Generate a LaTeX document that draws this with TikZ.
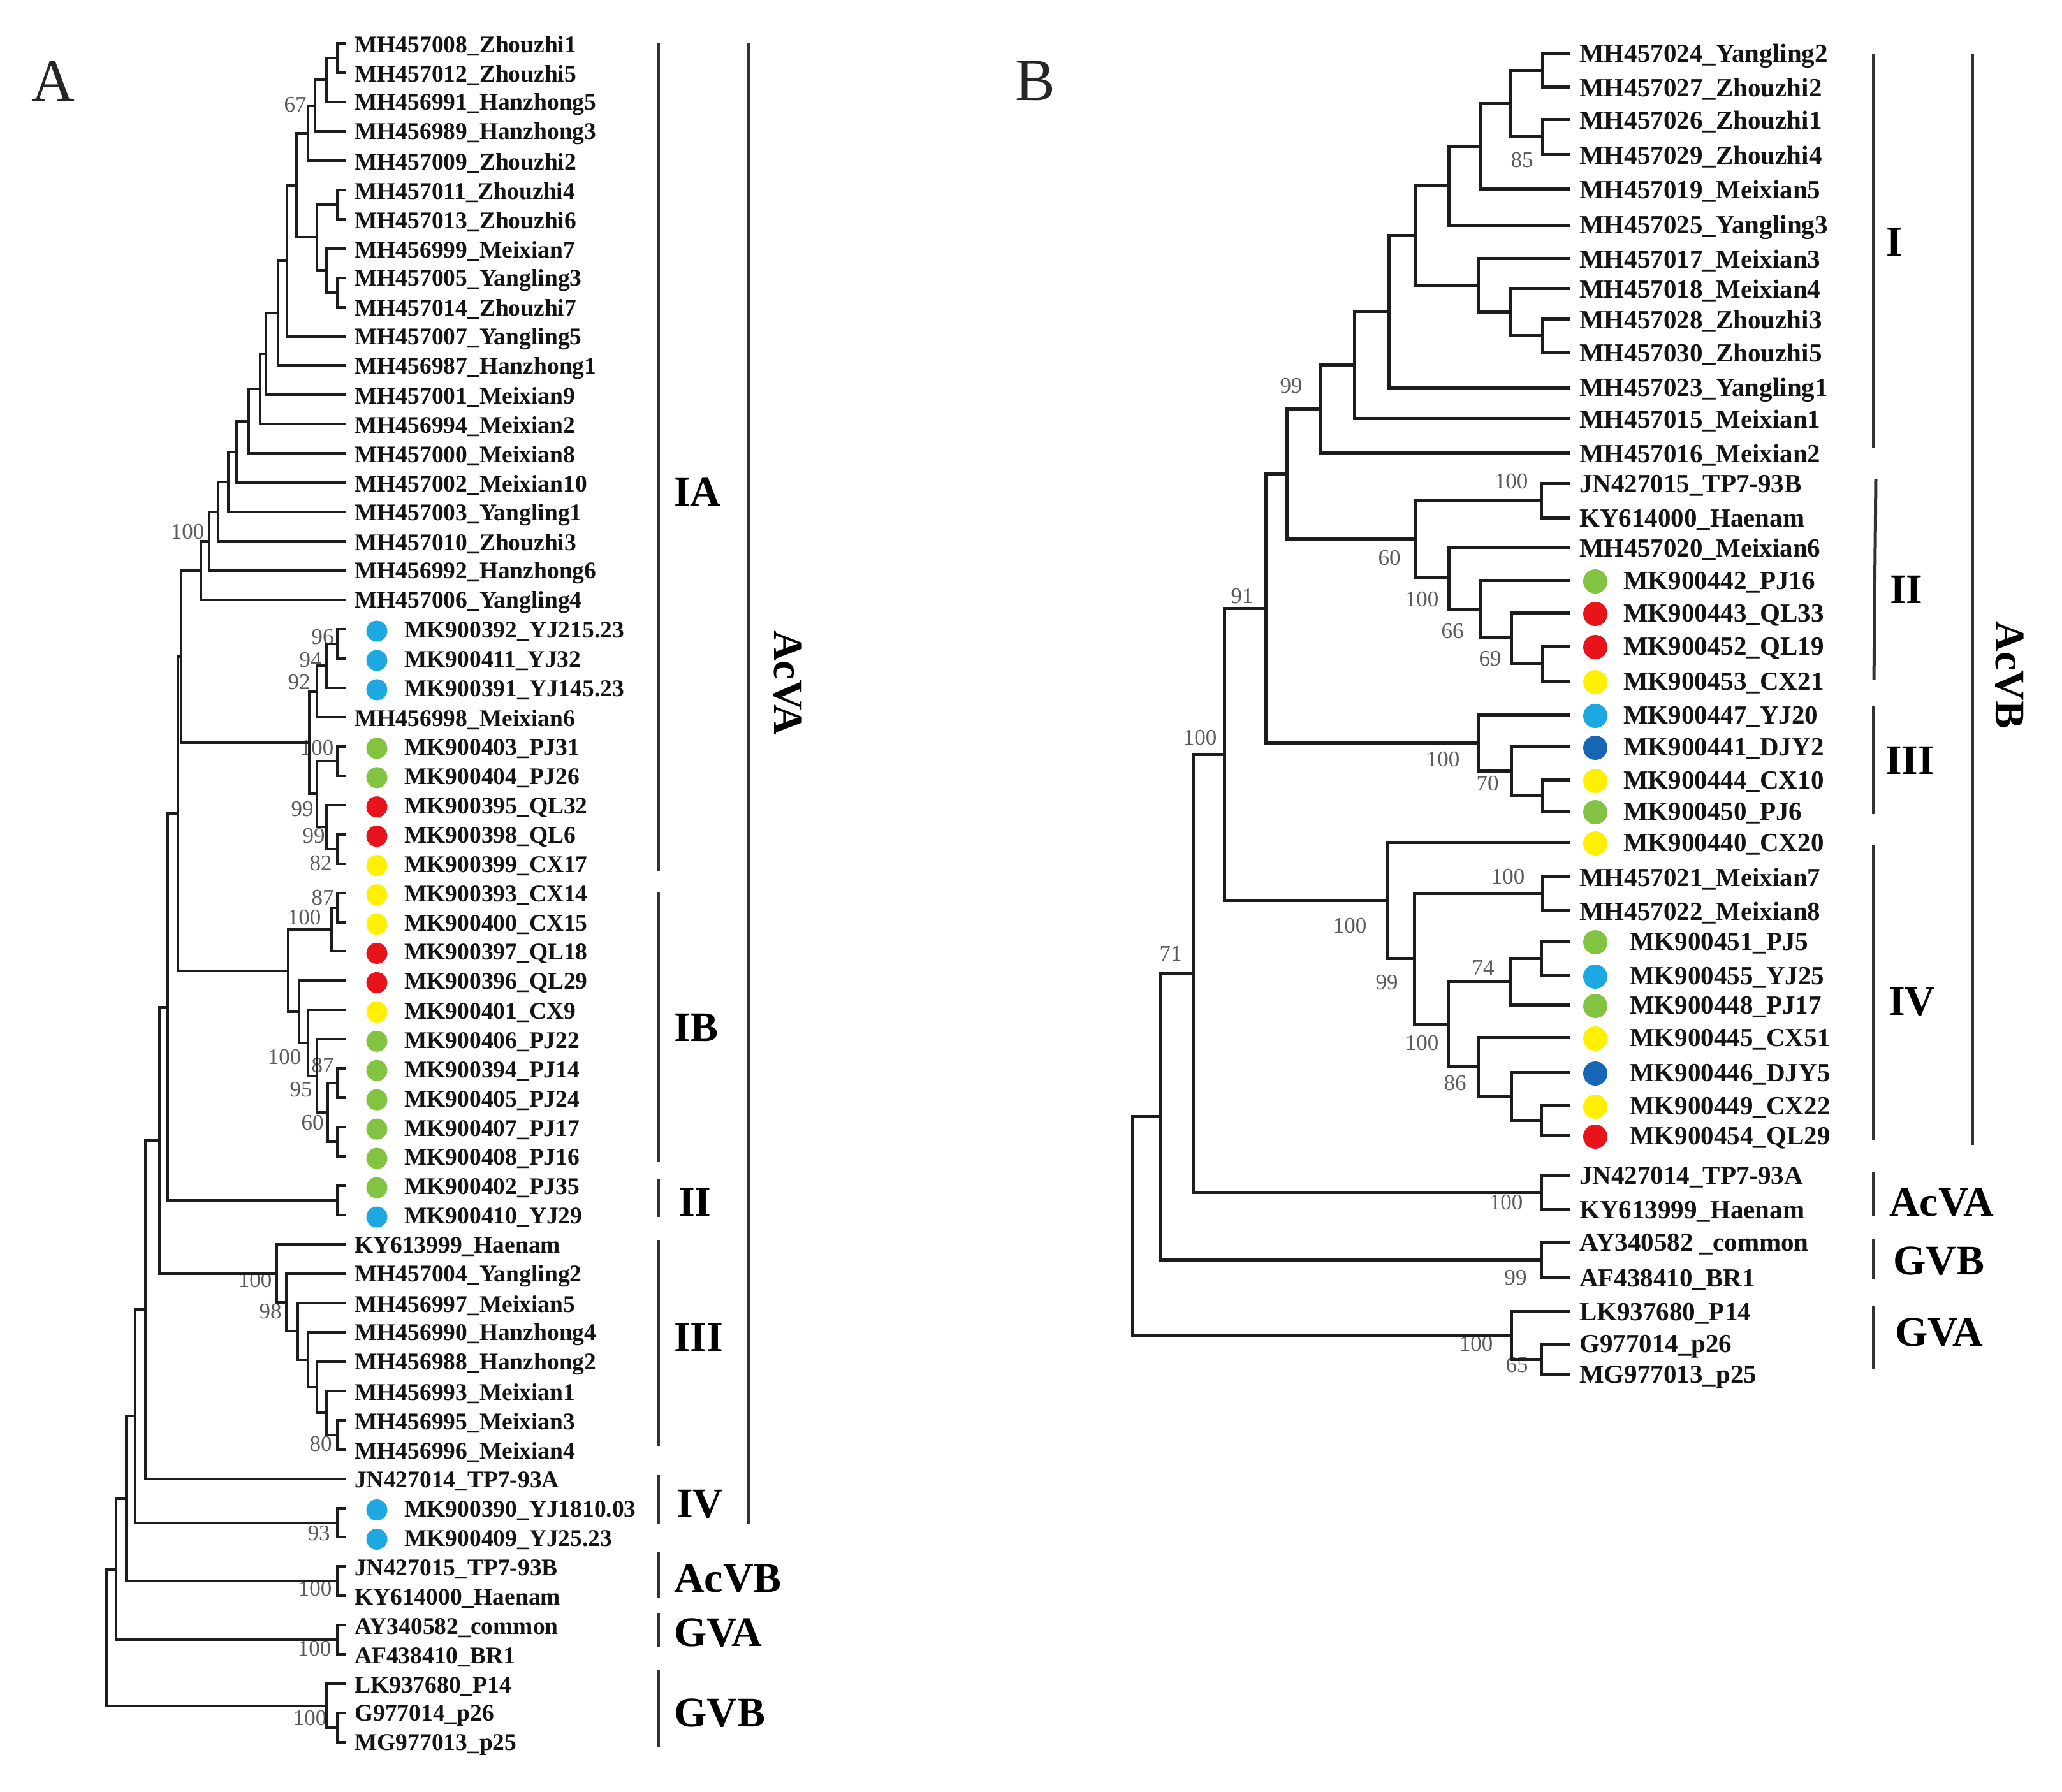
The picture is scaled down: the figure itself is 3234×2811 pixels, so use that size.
\documentclass[tikz,border=0pt]{standalone}
\usepackage{fontspec}
\setmainfont{Liberation Serif}
\usetikzlibrary{calc}
\definecolor{cgreen}{HTML}{82C341}
\definecolor{cred}{HTML}{E8141C}
\definecolor{cyel}{HTML}{FFF000}
\definecolor{cblue}{HTML}{1DA8E2}
\definecolor{cdblue}{HTML}{1766B5}
\definecolor{lineclr}{HTML}{1C1C1C}
\definecolor{bsclr}{HTML}{5A5A5A}
\newcommand\TreeNode[5]{%
  \path let \p1=($(#4)!0.5!(#5)$) in coordinate (#2) at (#3pt,\y1);
  \draw[#1] (#2) |- (#4);
  \draw[#1] (#2) |- (#5);}
\newcommand\LeafA[3]{%
  \coordinate (#1) at (543,{68+45.95*(#2-1)});
  \node[labA] (#1t) at (556,{72+45.95*(#2-1)}) {#3};}
\newcommand\LeafAc[4]{%
  \coordinate (#1) at (543,{68+45.95*(#2-1)});
  \node[dotA, fill=#4] (#1d) at (591,{71+45.95*(#2-1)}) {};
  \node[labA] (#1t) at (634,{72+45.95*(#2-1)}) {#3};}
\newcommand\LeafB[3]{%
  \coordinate (#1) at (2463,#2);
  \node[labB] (#1t) at (2477,{#2+4}) {#3};}
\newcommand\LeafBc[5]{%
  \coordinate (#1) at (2463,#2);
  \node[dotB, fill=#4] (#1d) at (2502,{#2+2}) {};
  \node[labB] (#1t) at (#5,{#2+4}) {#3};}
\newcommand\Boot[4]{\node[bs] (#1) at (#2,#3) {#4};}
\newcommand\Clade[4]{\node[cl] (#1) at (#2,#3) {#4};}
\begin{document}
\begin{tikzpicture}[x=1pt,y=-1pt,
  brA/.style={line width=4pt, draw=lineclr},
  brB/.style={line width=5pt, draw=lineclr},
  brk/.style={line width=5pt, draw=black!80},
  labA/.style={anchor=west, inner sep=0pt, font=\fontsize{37.5}{40}\selectfont\bfseries, text=black!92},
  labB/.style={anchor=west, inner sep=0pt, font=\fontsize{41}{44}\selectfont\bfseries, text=black!92},
  dotA/.style={circle, inner sep=0pt, minimum size=33pt, draw=none},
  dotB/.style={circle, inner sep=0pt, minimum size=38pt, draw=none},
  bs/.style={inner sep=0pt, font=\fontsize{35}{36}\selectfont, text=bsclr},
  cl/.style={anchor=west, inner sep=0pt, font=\fontsize{66}{70}\selectfont\bfseries, text=black},
  panel/.style={inner sep=0pt, font=\fontsize{94}{100}\selectfont, text=black!85}]
\useasboundingbox (0,0) rectangle (3234,2811);
\fill[white] (0,0) rectangle (3234,2811);

% panel letters
\node[panel] (pA) at (83,127) {A};
\node[panel] (pB) at (1624,127) {B};

% ---------------- Tree A bootstrap values ----------------
\Boot{bA1}{463}{164}{67}
\Boot{bA2}{294}{834}{100}
\Boot{bA3}{506}{999}{96}
\Boot{bA4}{487}{1035}{94}
\Boot{bA5}{469}{1070}{92}
\Boot{bA6}{497}{1173}{100}
\Boot{bA7}{474}{1269}{99}
\Boot{bA8}{492}{1311}{99}
\Boot{bA9}{503}{1354}{82}
\Boot{bA10}{506}{1408}{87}
\Boot{bA11}{477}{1439}{100}
\Boot{bA12}{446}{1658}{100}
\Boot{bA13}{506}{1671}{87}
\Boot{bA14}{472}{1709}{95}
\Boot{bA15}{490}{1761}{60}
\Boot{bA16}{400}{2008}{100}
\Boot{bA17}{424}{2057}{98}
\Boot{bA18}{503}{2265}{80}
\Boot{bA19}{500}{2405}{93}
\Boot{bA20}{494}{2492}{100}
\Boot{bA21}{493}{2586}{100}
\Boot{bA22}{486}{2695}{100}

% ---------------- Tree A leaves ----------------
\LeafA{a1}{1}{MH457008\_Zhouzhi1}
\LeafA{a2}{2}{MH457012\_Zhouzhi5}
\LeafA{a3}{3}{MH456991\_Hanzhong5}
\LeafA{a4}{4}{MH456989\_Hanzhong3}
\LeafA{a5}{5}{MH457009\_Zhouzhi2}
\LeafA{a6}{6}{MH457011\_Zhouzhi4}
\LeafA{a7}{7}{MH457013\_Zhouzhi6}
\LeafA{a8}{8}{MH456999\_Meixian7}
\LeafA{a9}{9}{MH457005\_Yangling3}
\LeafA{a10}{10}{MH457014\_Zhouzhi7}
\LeafA{a11}{11}{MH457007\_Yangling5}
\LeafA{a12}{12}{MH456987\_Hanzhong1}
\LeafA{a13}{13}{MH457001\_Meixian9}
\LeafA{a14}{14}{MH456994\_Meixian2}
\LeafA{a15}{15}{MH457000\_Meixian8}
\LeafA{a16}{16}{MH457002\_Meixian10}
\LeafA{a17}{17}{MH457003\_Yangling1}
\LeafA{a18}{18}{MH457010\_Zhouzhi3}
\LeafA{a19}{19}{MH456992\_Hanzhong6}
\LeafA{a20}{20}{MH457006\_Yangling4}
\LeafAc{a21}{21}{MK900392\_YJ215.23}{cblue}
\LeafAc{a22}{22}{MK900411\_YJ32}{cblue}
\LeafAc{a23}{23}{MK900391\_YJ145.23}{cblue}
\LeafA{a24}{24}{MH456998\_Meixian6}
\LeafAc{a25}{25}{MK900403\_PJ31}{cgreen}
\LeafAc{a26}{26}{MK900404\_PJ26}{cgreen}
\LeafAc{a27}{27}{MK900395\_QL32}{cred}
\LeafAc{a28}{28}{MK900398\_QL6}{cred}
\LeafAc{a29}{29}{MK900399\_CX17}{cyel}
\LeafAc{a30}{30}{MK900393\_CX14}{cyel}
\LeafAc{a31}{31}{MK900400\_CX15}{cyel}
\LeafAc{a32}{32}{MK900397\_QL18}{cred}
\LeafAc{a33}{33}{MK900396\_QL29}{cred}
\LeafAc{a34}{34}{MK900401\_CX9}{cyel}
\LeafAc{a35}{35}{MK900406\_PJ22}{cgreen}
\LeafAc{a36}{36}{MK900394\_PJ14}{cgreen}
\LeafAc{a37}{37}{MK900405\_PJ24}{cgreen}
\LeafAc{a38}{38}{MK900407\_PJ17}{cgreen}
\LeafAc{a39}{39}{MK900408\_PJ16}{cgreen}
\LeafAc{a40}{40}{MK900402\_PJ35}{cgreen}
\LeafAc{a41}{41}{MK900410\_YJ29}{cblue}
\LeafA{a42}{42}{KY613999\_Haenam}
\LeafA{a43}{43}{MH457004\_Yangling2}
\LeafA{a44}{44}{MH456997\_Meixian5}
\LeafA{a45}{45}{MH456990\_Hanzhong4}
\LeafA{a46}{46}{MH456988\_Hanzhong2}
\LeafA{a47}{47}{MH456993\_Meixian1}
\LeafA{a48}{48}{MH456995\_Meixian3}
\LeafA{a49}{49}{MH456996\_Meixian4}
\LeafA{a50}{50}{JN427014\_TP7-93A}
\LeafAc{a51}{51}{MK900390\_YJ1810.03}{cblue}
\LeafAc{a52}{52}{MK900409\_YJ25.23}{cblue}
\LeafA{a53}{53}{JN427015\_TP7-93B}
\LeafA{a54}{54}{KY614000\_Haenam}
\LeafA{a55}{55}{AY340582\_common}
\LeafA{a56}{56}{AF438410\_BR1}
\LeafA{a57}{57}{LK937680\_P14}
\LeafA{a58}{58}{G977014\_p26}
\LeafA{a59}{59}{MG977013\_p25}

% ---------------- Tree A internal nodes ----------------
\TreeNode{brA}{Az15}{529}{a1}{a2}
\TreeNode{brA}{Ah5}{512}{Az15}{a3}
\TreeNode{brA}{A67}{494}{Ah5}{a4}
\TreeNode{brA}{Az2}{483}{A67}{a5}
\TreeNode{brA}{Az46}{529}{a6}{a7}
\TreeNode{brA}{Ay3z7}{529}{a9}{a10}
\TreeNode{brA}{Am7}{512}{a8}{Ay3z7}
\TreeNode{brA}{Ac2}{497}{Az46}{Am7}
\TreeNode{brA}{An1}{465}{Az2}{Ac2}
\TreeNode{brA}{An2}{450}{An1}{a11}
\TreeNode{brA}{An3}{436}{An2}{a12}
\TreeNode{brA}{An4}{417}{An3}{a13}
\TreeNode{brA}{An5}{408}{An4}{a14}
\TreeNode{brA}{An6}{390}{An5}{a15}
\TreeNode{brA}{An7}{371}{An6}{a16}
\TreeNode{brA}{An8}{358}{An7}{a17}
\TreeNode{brA}{An9}{342}{An8}{a18}
\TreeNode{brA}{An10}{328}{An9}{a19}
\TreeNode{brA}{An11}{315}{An10}{a20}
\TreeNode{brA}{A96}{529}{a21}{a22}
\TreeNode{brA}{A94}{512}{A96}{a23}
\TreeNode{brA}{A92}{497}{A94}{a24}
\TreeNode{brA}{Apj}{529}{a25}{a26}
\TreeNode{brA}{A82}{529}{a28}{a29}
\TreeNode{brA}{A99b}{512}{a27}{A82}
\TreeNode{brA}{A99a}{497}{Apj}{A99b}
\TreeNode{brA}{Amk}{485}{A92}{A99a}
\TreeNode{brA}{AP1}{284}{An11}{Amk}
\TreeNode{brA}{A87a}{529}{a30}{a31}
\TreeNode{brA}{A100ib}{520}{A87a}{a32}
\TreeNode{brA}{A87b}{529}{a36}{a37}
\TreeNode{brA}{Apjc}{529}{a38}{a39}
\TreeNode{brA}{A60}{514}{A87b}{Apjc}
\TreeNode{brA}{A95}{497}{a35}{A60}
\TreeNode{brA}{A100c}{483}{a34}{A95}
\TreeNode{brA}{Aql}{469}{a33}{A100c}
\TreeNode{brA}{AIB}{452}{A100ib}{Aql}
\TreeNode{brA}{AP2}{279}{AP1}{AIB}
\TreeNode{brA}{AII}{529}{a40}{a41}
\TreeNode{brA}{AP3}{263}{AP2}{AII}
\TreeNode{brA}{A80}{529}{a48}{a49}
\TreeNode{brA}{Am1}{512}{a47}{A80}
\TreeNode{brA}{Ah2}{497}{a46}{Am1}
\TreeNode{brA}{Ah4}{483}{a45}{Ah2}
\TreeNode{brA}{Am5}{467}{a44}{Ah4}
\TreeNode{brA}{A98}{449}{a43}{Am5}
\TreeNode{brA}{AIII}{434}{a42}{A98}
\TreeNode{brA}{AP4}{250}{AP3}{AIII}
\TreeNode{brA}{AP5}{228}{AP4}{a50}
\TreeNode{brA}{AIV}{529}{a51}{a52}
\TreeNode{brA}{AP6}{212}{AP5}{AIV}
\TreeNode{brA}{Aacvb}{529}{a53}{a54}
\TreeNode{brA}{AP7}{198}{AP6}{Aacvb}
\TreeNode{brA}{Agva}{529}{a55}{a56}
\TreeNode{brA}{AP8}{182}{AP7}{Agva}
\TreeNode{brA}{Agvb2}{529}{a58}{a59}
\TreeNode{brA}{Agvb}{512}{a57}{Agvb2}
\TreeNode{brA}{Aroot}{167}{AP8}{Agvb}

% ---------------- Tree A brackets ----------------
\draw[brk] (1032,68) -- (1032,1367);
\draw[brk] (1032,1399) -- (1032,1823);
\draw[brk] (1032,1850) -- (1032,1909);
\draw[brk] (1032,1945) -- (1032,2269);
\draw[brk] (1032,2314) -- (1032,2390);
\draw[brk] (1032,2435) -- (1032,2507);
\draw[brk] (1032,2530) -- (1032,2584);
\draw[brk] (1032,2620) -- (1032,2741);
\draw[brk] (1174,68) -- (1174,2390);
\Clade{cA1}{1057}{772}{IA}
\Clade{cA2}{1057}{1612}{IB}
\Clade{cA3}{1064}{1886}{II}
\Clade{cA4}{1057}{2098}{III}
\Clade{cA5}{1061}{2359}{IV}
\Clade{cA6}{1057}{2476}{AcVB}
\Clade{cA7}{1057}{2561}{GVA}
\Clade{cA8}{1057}{2687}{GVB}
\node[cl, anchor=center, rotate=-90] (cA9) at (1236,1071) {AcVA};

% ---------------- Tree B bootstrap values ----------------
\Boot{bB1}{2387}{251}{85}
\Boot{bB2}{2025}{605}{99}
\Boot{bB3}{2370}{755}{100}
\Boot{bB4}{2179}{875}{60}
\Boot{bB5}{2230}{940}{100}
\Boot{bB6}{2278}{990}{66}
\Boot{bB7}{2337}{1033}{69}
\Boot{bB8}{1948}{935}{91}
\Boot{bB9}{2263}{1191}{100}
\Boot{bB10}{2333}{1229}{70}
\Boot{bB11}{1882}{1157}{100}
\Boot{bB12}{2365}{1375}{100}
\Boot{bB13}{2117}{1452}{100}
\Boot{bB14}{1836}{1496}{71}
\Boot{bB15}{2326}{1518}{74}
\Boot{bB16}{2175}{1541}{99}
\Boot{bB17}{2230}{1636}{100}
\Boot{bB18}{2282}{1699}{86}
\Boot{bB19}{2362}{1886}{100}
\Boot{bB20}{2377}{2004}{99}
\Boot{bB21}{2315}{2108}{100}
\Boot{bB22}{2379}{2141}{65}

% ---------------- Tree B leaves ----------------
\LeafB{b1}{84}{MH457024\_Yangling2}
\LeafB{b2}{136}{MH457027\_Zhouzhi2}
\LeafB{b3}{187}{MH457026\_Zhouzhi1}
\LeafB{b4}{242}{MH457029\_Zhouzhi4}
\LeafB{b5}{296}{MH457019\_Meixian5}
\LeafB{b6}{353}{MH457025\_Yangling3}
\LeafB{b7}{405}{MH457017\_Meixian3}
\LeafB{b8}{452}{MH457018\_Meixian4}
\LeafB{b9}{500}{MH457028\_Zhouzhi3}
\LeafB{b10}{552}{MH457030\_Zhouzhi5}
\LeafB{b11}{608}{MH457023\_Yangling1}
\LeafB{b12}{656}{MH457015\_Meixian1}
\LeafB{b13}{710}{MH457016\_Meixian2}
\LeafB{b14}{758}{JN427015\_TP7-93B}
\LeafB{b15}{812}{KY614000\_Haenam}
\LeafB{b16}{858}{MH457020\_Meixian6}
\LeafBc{b17}{910}{MK900442\_PJ16}{cgreen}{2546}
\LeafBc{b18}{961}{MK900443\_QL33}{cred}{2546}
\LeafBc{b19}{1013}{MK900452\_QL19}{cred}{2546}
\LeafBc{b20}{1068}{MK900453\_CX21}{cyel}{2546}
\LeafBc{b21}{1121}{MK900447\_YJ20}{cblue}{2546}
\LeafBc{b22}{1171}{MK900441\_DJY2}{cdblue}{2546}
\LeafBc{b23}{1223}{MK900444\_CX10}{cyel}{2546}
\LeafBc{b24}{1272}{MK900450\_PJ6}{cgreen}{2546}
\LeafBc{b25}{1321}{MK900440\_CX20}{cyel}{2546}
\LeafB{b26}{1375}{MH457021\_Meixian7}
\LeafB{b27}{1428}{MH457022\_Meixian8}
\LeafBc{b28}{1476}{MK900451\_PJ5}{cgreen}{2556}
\LeafBc{b29}{1530}{MK900455\_YJ25}{cblue}{2556}
\LeafBc{b30}{1576}{MK900448\_PJ17}{cgreen}{2556}
\LeafBc{b31}{1627}{MK900445\_CX51}{cyel}{2556}
\LeafBc{b32}{1682}{MK900446\_DJY5}{cdblue}{2556}
\LeafBc{b33}{1734}{MK900449\_CX22}{cyel}{2556}
\LeafBc{b34}{1781}{MK900454\_QL29}{cred}{2556}
\LeafB{b35}{1843}{JN427014\_TP7-93A}
\LeafB{b36}{1897}{KY613999\_Haenam}
\LeafB{b37}{1948}{AY340582 \_common}
\LeafB{b38}{2004}{AF438410\_BR1}
\LeafB{b39}{2057}{LK937680\_P14}
\LeafB{b40}{2108}{G977014\_p26}
\LeafB{b41}{2156}{MG977013\_p25}

% ---------------- Tree B internal nodes ----------------
\TreeNode{brB}{B12}{2419}{b1}{b2}
\TreeNode{brB}{B85}{2419}{b3}{b4}
\TreeNode{brB}{Bq}{2368}{B12}{B85}
\TreeNode{brB}{Bm5}{2321}{Bq}{b5}
\TreeNode{brB}{By3}{2272}{Bm5}{b6}
\TreeNode{brB}{Bz35}{2419}{b9}{b10}
\TreeNode{brB}{Bm4}{2368}{b8}{Bz35}
\TreeNode{brB}{Bm3}{2318}{b7}{Bm4}
\TreeNode{brB}{Bc}{2219}{By3}{Bm3}
\TreeNode{brB}{By1}{2178}{Bc}{b11}
\TreeNode{brB}{Bm1}{2124}{By1}{b12}
\TreeNode{brB}{BI}{2070}{Bm1}{b13}
\TreeNode{brB}{Btp}{2417}{b14}{b15}
\TreeNode{brB}{B69b}{2419}{b19}{b20}
\TreeNode{brB}{B69}{2370}{b18}{B69b}
\TreeNode{brB}{B66}{2321}{b17}{B69}
\TreeNode{brB}{B100m}{2272}{b16}{B66}
\TreeNode{brB}{BII}{2219}{Btp}{B100m}
\TreeNode{brB}{BIII}{2018}{BI}{BII}
\TreeNode{brB}{Biiib}{2419}{b23}{b24}
\TreeNode{brB}{B70}{2370}{b22}{Biiib}
\TreeNode{brB}{BIIIc}{2318}{b21}{B70}
\TreeNode{brB}{B91}{1985}{BIII}{BIIIc}
\TreeNode{brB}{Bm78}{2419}{b26}{b27}
\TreeNode{brB}{Bpj5}{2417}{b28}{b29}
\TreeNode{brB}{B74}{2368}{Bpj5}{b30}
\TreeNode{brB}{Bcx22}{2417}{b33}{b34}
\TreeNode{brB}{Bdjy5}{2370}{b32}{Bcx22}
\TreeNode{brB}{B86}{2318}{b31}{Bdjy5}
\TreeNode{brB}{B100d}{2271}{B74}{B86}
\TreeNode{brB}{B99}{2218}{Bm78}{B100d}
\TreeNode{brB}{BIV}{2175}{b25}{B99}
\TreeNode{brB}{B100}{1920}{B91}{BIV}
\TreeNode{brB}{Bacva}{2417}{b35}{b36}
\TreeNode{brB}{B71}{1871}{B100}{Bacva}
\TreeNode{brB}{Bgvb}{2417}{b37}{b38}
\TreeNode{brB}{Bg}{1820}{B71}{Bgvb}
\TreeNode{brB}{Bgva2}{2417}{b40}{b41}
\TreeNode{brB}{Bgva}{2370}{b39}{Bgva2}
\TreeNode{brB}{Broot}{1776}{Bg}{Bgva}

% ---------------- Tree B brackets ----------------
\draw[brk] (2938,84) -- (2938,702);
\draw[brk] (2942,751) -- (2939,1066);
\draw[brk] (2938,1108) -- (2938,1277);
\draw[brk] (2938,1326) -- (2938,1789);
\draw[brk] (2938,1838) -- (2938,1908);
\draw[brk] (2938,1943) -- (2938,2006);
\draw[brk] (2938,2048) -- (2938,2147);
\draw[brk] (3093,84) -- (3093,1796);
\Clade{cB1}{2958}{380}{I}
\Clade{cB2}{2964}{925}{II}
\Clade{cB3}{2957}{1193}{III}
\Clade{cB4}{2962}{1571}{IV}
\Clade{cB5}{2963}{1886}{AcVA}
\Clade{cB6}{2969}{1978}{GVB}
\Clade{cB7}{2972}{2090}{GVA}
\node[cl, anchor=center, rotate=-90] (cB8) at (3152,1059) {AcVB};
\end{tikzpicture}
\end{document}
